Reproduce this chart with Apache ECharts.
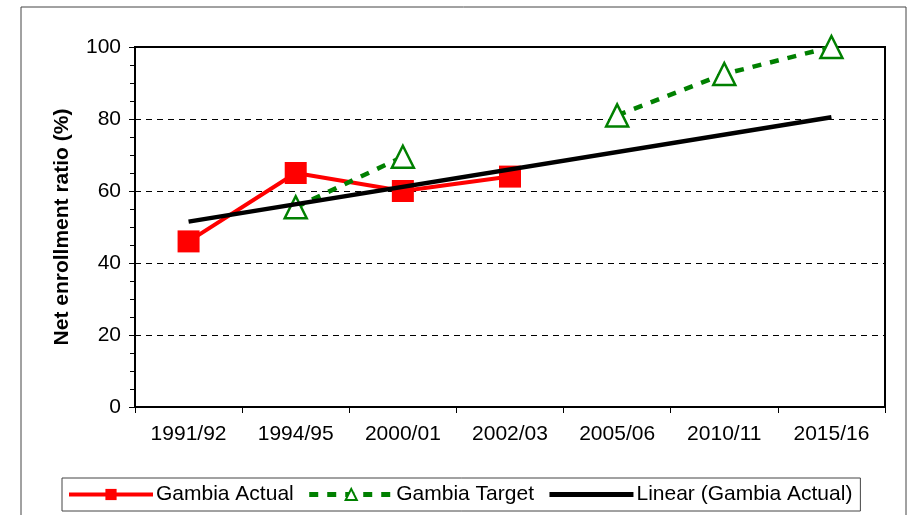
<!DOCTYPE html>
<html lang="en">
<head>
  <meta charset="UTF-8">
  <title>Gambia net enrollment ratio</title>
  <script src="https://cdn.jsdelivr.net/npm/echarts@6/dist/echarts.min.js"></script>
  <style>
    html, body { margin: 0; padding: 0; background: #fff; }
    #chart { width: 910px; height: 515px; }
  </style>
</head>
<body>
<div id="chart"></div>
<script>
  // categories and values
  var years = ['1991/92', '1994/95', '2000/01', '2002/03', '2005/06', '2010/11', '2015/16'];
  var actual = [46, 65, 60, 64, null, null, null];
  var target = [null, 55.5, 69.5, null, 81, 92.5, 100];
  // trend line: only its two ends are read, the rest is joined
  var linear = [51.5, null, null, null, null, null, 80.5];
  var yTicks = [0, 20, 40, 60, 80, 100];

  var font = 'Arial, "Liberation Sans", sans-serif';

  var chart = echarts.init(document.getElementById('chart'));
  chart.setOption({
    backgroundColor: '#fff',
    animation: false,
    graphic: [{
      type: 'rect',
      shape: { x: 21, y: 7, width: 885, height: 530 },
      style: { fill: 'none', stroke: '#444', lineWidth: 1 },
      silent: true
    }],
    grid: {
      left: 135, top: 47, right: 25, bottom: 108,
      show: true, borderColor: '#000', borderWidth: 2
    },
    legend: {
      left: 62, top: 478,
      padding: [6, 8, 6, 5],
      borderColor: '#444', borderWidth: 1,
      itemWidth: 84, itemHeight: 14, itemGap: 13,
      textStyle: { fontFamily: font, fontSize: 21, color: '#000', padding: [0, 0, 0, -2] },
      data: [
        { name: 'Gambia Actual', lineStyle: { width: 4 } },
        { name: 'Gambia Target', lineStyle: { width: 5 } },
        { name: 'Linear (Gambia Actual)', lineStyle: { width: 5 }, itemStyle: { opacity: 0 } }
      ]
    },
    xAxis: {
      type: 'category',
      data: years,
      boundaryGap: true,
      axisLine: { lineStyle: { color: '#000', width: 2 } },
      axisTick: { show: true, length: 6, lineStyle: { color: '#000', width: 1 } },
      axisLabel: { fontFamily: font, fontSize: 21, color: '#000', margin: 17 },
      splitLine: { show: false }
    },
    yAxis: {
      type: 'value',
      min: yTicks[0], max: yTicks[yTicks.length - 1], interval: 20,
      name: 'Net enrollment ratio (%)',
      nameLocation: 'middle',
      nameGap: 62,
      nameTextStyle: { fontFamily: font, fontSize: 21, fontWeight: 'bold', color: '#000' },
      axisLine: { show: true, lineStyle: { color: '#000', width: 2 } },
      axisTick: { show: true, length: 6, lineStyle: { color: '#000', width: 1 } },
      minorTick: { show: true, splitNumber: 4, length: 5, lineStyle: { color: '#000', width: 1 } },
      axisLabel: { fontFamily: font, fontSize: 21, color: '#000', margin: 14 },
      splitLine: { show: true, lineStyle: { color: '#000', width: 1, type: [6, 5] } }
    },
    series: [{
      name: 'Gambia Actual',
      type: 'line',
      data: actual,
      symbol: 'rect',
      symbolSize: 22,
      color: '#ff0000',
      lineStyle: { color: '#ff0000', width: 4 },
      itemStyle: { color: '#ff0000' },
      z: 2
    }, {
      name: 'Gambia Target',
      type: 'line',
      data: target,
      symbol: 'triangle',
      symbolSize: 22,
      color: '#008000',
      lineStyle: { color: '#008000', width: 4.5, type: [9, 9] },
      itemStyle: { color: '#fff', borderColor: '#008000', borderWidth: 2.5 },
      z: 3
    }, {
      name: 'Linear (Gambia Actual)',
      type: 'line',
      data: linear,
      connectNulls: true,
      symbol: 'none',
      color: '#000',
      lineStyle: { color: '#000', width: 4.5 },
      z: 4
    }]
  });
</script>
</body>
</html>
